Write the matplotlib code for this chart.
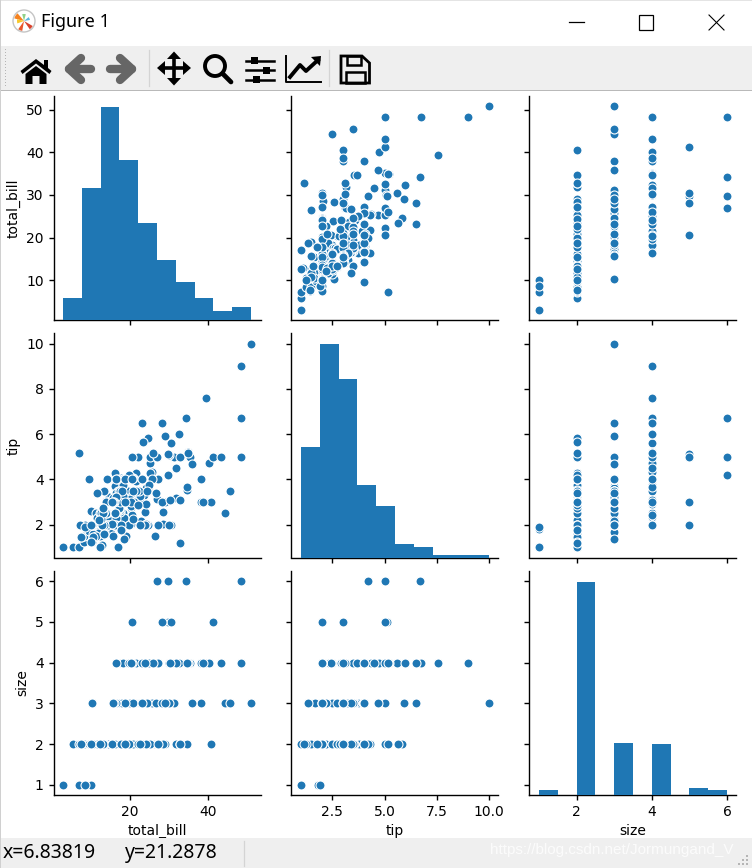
import matplotlib
matplotlib.use('Agg')
import matplotlib.pyplot as plt
from matplotlib.patches import Circle, Polygon, Rectangle, Wedge

# tips values
total_bill = [16.99, 10.34, 21.01, 23.68, 24.59, 25.29, 8.77, 26.88, 15.04, 14.78, 10.27, 35.26, 15.42, 18.43, 14.83, 21.58, 10.33, 16.29, 16.97, 20.65,
              17.92, 20.29, 15.77, 39.42, 19.82, 17.81, 13.37, 12.69, 21.7, 19.65, 9.55, 18.35, 15.06, 20.69, 17.78, 24.06, 16.31, 16.93, 18.69, 31.27,
              16.04, 17.46, 13.94, 9.68, 30.4, 18.29, 22.23, 32.4, 28.55, 18.04, 12.54, 10.29, 34.81, 9.94, 25.56, 19.49, 38.01, 26.41, 11.24, 48.27,
              20.29, 13.81, 11.02, 18.29, 17.59, 20.08, 16.45, 3.07, 20.23, 15.01, 12.02, 17.07, 26.86, 25.28, 14.73, 10.51, 17.92, 27.2, 22.76, 17.29,
              19.44, 16.66, 10.07, 32.68, 15.98, 34.83, 13.03, 18.28, 24.71, 21.16, 28.97, 22.49, 5.75, 16.32, 22.75, 40.17, 27.28, 12.03, 21.01, 12.46,
              11.35, 15.38, 44.3, 22.42, 20.92, 15.36, 20.49, 25.21, 18.24, 14.31, 14.0, 7.25, 38.07, 23.95, 25.71, 17.31, 29.93, 10.65, 12.43, 24.08,
              11.69, 13.42, 14.26, 15.95, 12.48, 29.8, 8.52, 14.52, 11.38, 22.82, 19.08, 20.27, 11.17, 12.26, 18.26, 8.51, 10.33, 14.15, 16.0, 13.16,
              17.47, 34.3, 41.19, 27.05, 16.43, 8.35, 18.64, 11.87, 9.78, 7.51, 14.07, 13.13, 17.26, 24.55, 19.77, 29.85, 48.17, 25.0, 13.39, 16.49,
              21.5, 12.66, 16.21, 13.81, 17.51, 24.52, 20.76, 31.71, 10.59, 10.63, 50.81, 15.81, 7.25, 31.85, 16.82, 32.9, 17.89, 14.48, 9.6, 34.63,
              34.65, 23.33, 45.35, 23.17, 40.55, 20.69, 20.9, 30.46, 18.15, 23.1, 15.69, 19.81, 28.44, 15.48, 16.58, 7.56, 10.34, 43.11, 13.0, 13.51,
              18.71, 12.74, 13.0, 16.4, 20.53, 16.47, 26.59, 38.73, 24.27, 12.76, 30.06, 25.89, 48.33, 13.27, 28.17, 12.9, 28.15, 11.59, 7.74, 30.14,
              12.16, 13.42, 8.58, 15.98, 13.42, 16.27, 10.09, 20.45, 13.28, 22.12, 24.01, 15.69, 11.61, 10.77, 15.53, 10.07, 12.6, 32.83, 35.83, 29.03,
              27.18, 22.67, 17.82, 18.78]
tip = [1.01, 1.66, 3.5, 3.31, 3.61, 4.71, 2.0, 3.12, 1.96, 3.23, 1.71, 5.0, 1.57, 3.0, 3.02, 3.92, 1.67, 3.71, 3.5, 3.35,
       4.08, 2.75, 2.23, 7.58, 3.18, 2.34, 2.0, 2.0, 4.3, 3.0, 1.45, 2.5, 3.0, 2.45, 3.27, 3.6, 2.0, 3.07, 2.31, 5.0,
       2.24, 2.54, 3.06, 1.32, 5.6, 3.0, 5.0, 6.0, 2.05, 3.0, 2.5, 2.6, 5.2, 1.56, 4.34, 3.51, 3.0, 1.5, 1.76, 6.73,
       3.21, 2.0, 1.98, 3.76, 2.64, 3.15, 2.47, 1.0, 2.01, 2.09, 1.97, 3.0, 3.14, 5.0, 2.2, 1.25, 3.08, 4.0, 3.0, 2.71,
       3.0, 3.4, 1.83, 5.0, 2.03, 5.17, 2.0, 4.0, 5.85, 3.0, 3.0, 3.5, 1.0, 4.3, 3.25, 4.73, 4.0, 1.5, 3.0, 1.5,
       2.5, 3.0, 2.5, 3.48, 4.08, 1.64, 4.06, 4.29, 3.76, 4.0, 3.0, 1.0, 4.0, 2.55, 4.0, 3.5, 5.07, 1.5, 1.8, 2.92,
       2.31, 1.68, 2.5, 2.0, 2.52, 4.2, 1.48, 2.0, 2.0, 2.18, 1.5, 2.83, 1.5, 2.0, 3.25, 1.25, 2.0, 2.0, 2.0, 2.75,
       3.5, 6.7, 5.0, 5.0, 2.3, 1.5, 1.36, 1.63, 1.73, 2.0, 2.5, 2.0, 2.74, 2.0, 2.0, 5.14, 5.0, 3.75, 2.61, 2.0,
       3.5, 2.5, 2.0, 2.0, 3.0, 3.48, 2.24, 4.5, 1.61, 2.0, 10.0, 3.16, 5.15, 3.18, 4.0, 3.11, 2.0, 2.0, 4.0, 3.55,
       3.68, 5.65, 3.5, 6.5, 3.0, 5.0, 3.5, 2.0, 3.5, 4.0, 1.5, 4.19, 2.56, 2.02, 4.0, 1.44, 2.0, 5.0, 2.0, 2.0,
       4.0, 2.01, 2.0, 2.5, 4.0, 3.23, 3.41, 3.0, 2.03, 2.23, 2.0, 5.16, 9.0, 2.5, 6.5, 1.1, 3.0, 1.5, 1.44, 3.09,
       2.2, 3.48, 1.92, 3.0, 1.58, 2.5, 2.0, 3.0, 2.72, 2.88, 2.0, 3.0, 3.39, 1.47, 3.0, 1.25, 1.0, 1.17, 4.67, 5.92,
       2.0, 2.0, 1.75, 3.0]
size = [2, 3, 3, 2, 4, 4, 2, 4, 2, 2, 2, 4, 2, 4, 2, 2, 3, 3, 3, 3,
        2, 2, 2, 4, 2, 4, 2, 2, 2, 2, 2, 4, 2, 4, 2, 3, 3, 3, 3, 3,
        3, 2, 2, 2, 4, 2, 2, 4, 3, 2, 2, 2, 4, 2, 4, 2, 4, 2, 2, 4,
        2, 2, 2, 4, 3, 3, 2, 1, 2, 2, 2, 3, 2, 2, 2, 2, 2, 4, 2, 2,
        2, 2, 1, 2, 2, 4, 2, 2, 2, 2, 2, 2, 2, 2, 2, 4, 2, 2, 2, 2,
        2, 2, 3, 2, 2, 2, 2, 2, 2, 2, 2, 1, 3, 2, 3, 2, 4, 2, 2, 4,
        2, 2, 2, 2, 2, 6, 2, 2, 2, 3, 2, 2, 2, 2, 2, 2, 2, 2, 2, 2,
        2, 6, 5, 6, 2, 2, 3, 2, 2, 2, 2, 2, 3, 4, 4, 5, 6, 4, 2, 4,
        4, 2, 3, 2, 2, 3, 2, 4, 2, 2, 3, 2, 2, 2, 2, 2, 2, 2, 2, 2,
        4, 2, 3, 4, 2, 5, 3, 5, 3, 3, 2, 2, 2, 2, 2, 2, 2, 4, 2, 2,
        3, 2, 2, 2, 4, 3, 3, 4, 2, 2, 3, 4, 4, 2, 3, 2, 5, 2, 2, 4,
        2, 2, 1, 3, 2, 2, 2, 4, 2, 2, 4, 3, 2, 2, 2, 2, 2, 2, 3, 3,
        2, 2, 2, 2]

names = ['total_bill', 'tip', 'size']
columns = [total_bill, tip, size]
x_ticks = [[20, 40], [2.5, 5.0, 7.5, 10.0], [2, 4, 6]]
y_ticks = [[10, 20, 30, 40, 50], [2, 4, 6, 8, 10], [1, 2, 3, 4, 5, 6]]

blue = '#1f77b4'
W, H = 752, 868

plt.rcParams['font.size'] = 10
plt.rcParams['axes.labelsize'] = 10
plt.rcParams['axes.linewidth'] = 1.0
plt.rcParams['xtick.major.width'] = 1.0
plt.rcParams['ytick.major.width'] = 1.0

fig, axes = plt.subplots(3, 3, sharex='col', sharey='row', figsize=(W / 100, H / 100), dpi=100)
fig.subplots_adjust(left=53.5 / W, right=736.5 / W, top=1 - 96 / H, bottom=1 - 795 / H,
                    wspace=31 / 207, hspace=13.5 / 224)

for i in range(3):
    for j in range(3):
        ax = axes[i, j]
        ax.spines['top'].set_visible(False)
        ax.spines['right'].set_visible(False)
        if i == j:
            # histogram sits on a hidden twin so the y ticks stay in data units
            twin = ax.twinx()
            twin.hist(columns[i], color=blue)
            twin.axis('off')
        else:
            ax.scatter(columns[j], columns[i], s=42, color=blue, edgecolor='white', linewidth=0.8)

for i in range(3):
    axes[i, 0].set_ylabel(names[i])
    axes[i, 0].set_yticks(y_ticks[i])
    axes[2, i].set_xlabel(names[i])
    axes[2, i].set_xticks(x_ticks[i])
axes[0, 0].set_ylim(min(total_bill) - 0.05 * (max(total_bill) - min(total_bill)),
                    max(total_bill) + 0.05 * (max(total_bill) - min(total_bill)))
axes[2, 2].set_ylim(0.75, 6.25)
axes[2, 1].set_xticklabels(['2.5', '5.0', '7.5', '10.0'])

# window frame drawn in pixel coordinates on top of the figure
ui = fig.add_axes([0, 0, 1, 1], zorder=10)
ui.set_xlim(0, W)
ui.set_ylim(H, 0)
ui.axis('off')
ui.patch.set_alpha(0)

grey_bg = '#efefef'
ui.add_patch(Rectangle((0, 0), W, 46, color='white', lw=0))
ui.add_patch(Rectangle((0, 46), W, 44, color=grey_bg, lw=0))
ui.add_patch(Rectangle((0, 89.5), W, 1.5, color='#b9b9b9', lw=0))
ui.add_patch(Rectangle((0, 0), W, 1, color='#e4e4e4', lw=0))
ui.add_patch(Rectangle((0, 838), W, 30, color=grey_bg, lw=0))
ui.add_patch(Rectangle((0, 0), 1, H, color='#d0d0d0', lw=0))

# logo
ui.add_patch(Circle((24, 21), 11, fc='white', ec='#c4c4c4', lw=1))
ui.add_patch(Wedge((24, 21), 10, 195, 230, color='#f58220', lw=0))
ui.add_patch(Wedge((24, 21), 10, 100, 125, color='#e9562a', lw=0))
ui.add_patch(Wedge((24, 21), 10, 30, 55, color='#d8412b', lw=0))
ui.add_patch(Wedge((24, 21), 7, 160, 195, color='#f7c82d', lw=0))
ui.add_patch(Wedge((24, 21), 7, 255, 285, color='#8fd18a', lw=0))
ui.add_patch(Wedge((24, 21), 6, 320, 350, color='#5bb5e0', lw=0))
ui.text(41, 22, 'Figure 1', fontsize=13, family='Noto Sans', va='center', ha='left', color='black')

# window buttons
ui.plot([569, 584], [22, 22], color='black', lw=0.9)
ui.add_patch(Rectangle((638.5, 15), 14.5, 14.5, fc='none', ec='black', lw=0.9))
ui.plot([709, 724], [15, 30], color='black', lw=0.8)
ui.plot([709, 724], [30, 15], color='black', lw=0.8)

# toolbar
for sx in [148.5, 329]:
    ui.plot([sx, sx], [50, 86], color='#d4d4d4', lw=0.9)
for gy in range(49, 88, 3):
    ui.add_patch(Rectangle((5, gy), 1.3, 1.3, color='#b5b5b5', lw=0))

ui.add_patch(Polygon([(20.5, 71), (36, 59), (44, 65), (44, 60), (48, 60), (48, 68), (51.5, 71), (49.5, 74),
                      (36, 63.5), (22.5, 74)], color='black', lw=0))
ui.add_patch(Polygon([(25.5, 74), (36, 66), (46.5, 74), (46.5, 84), (39.5, 84), (39.5, 76), (32.5, 76), (32.5, 84),
                      (25.5, 84)], color='black', lw=0))

# back / forward arrows, thick round strokes
arrow_grey = '#666666'
for tip_x, head_x, tail_x in [(69, 81, 91), (132, 120, 110)]:
    ui.plot([tail_x, tip_x], [69, 69], color=arrow_grey, lw=6, solid_capstyle='round')
    ui.plot([head_x, tip_x, head_x], [58, 69, 80], color=arrow_grey, lw=6,
            solid_capstyle='round', solid_joinstyle='round')

ui.plot([174, 174], [56, 80], color='black', lw=2.6)
ui.plot([162, 186], [68, 68], color='black', lw=2.6)
ui.add_patch(Polygon([(174, 51.5), (181, 59), (167, 59)], color='black', lw=0))
ui.add_patch(Polygon([(174, 85.5), (181, 78), (167, 78)], color='black', lw=0))
ui.add_patch(Polygon([(157, 68), (165, 61), (165, 75)], color='black', lw=0))
ui.add_patch(Polygon([(191, 68), (183, 61), (183, 75)], color='black', lw=0))

ui.add_patch(Circle((215, 66), 10, fc='none', ec='black', lw=2.8))
ui.plot([222.5, 231], [73.5, 82], color='black', lw=3.4, solid_capstyle='round')

for sy, kx in [(60.5, 254), (70, 266), (79.5, 256)]:
    ui.plot([246, 274], [sy, sy], color='black', lw=1.8)
    ui.add_patch(Rectangle((kx - 3.5, sy - 3.5), 7, 7, color='black', lw=0))

ui.plot([285.5, 285.5, 321], [56, 82, 82], color='black', lw=1.4)
ui.plot([290, 300, 306, 318], [77, 65, 71, 60], color='black', lw=2.8)
ui.add_patch(Polygon([(311, 57), (321, 56), (320, 66)], color='black', lw=0))

ui.add_patch(Polygon([(341, 56), (362, 56), (369.5, 63), (369.5, 83), (341, 83)], fc='none', ec='black', lw=2))
ui.add_patch(Rectangle((347, 56), 14, 9, fc='none', ec='black', lw=1.8))
ui.add_patch(Rectangle((346, 72), 19, 11, fc='none', ec='black', lw=1.8))

# status bar
ui.text(3, 853, 'x=6.83819', fontsize=14, family='Noto Sans', va='center', color='black')
ui.text(125, 853, 'y=21.2878', fontsize=14, family='Noto Sans', va='center', color='black')
ui.plot([244, 244], [841, 866], color='#d4d4d4', lw=0.9)
ui.text(490, 850, 'https://blog.csdn.net/Jormungand_V', fontsize=11, family='Liberation Sans', va='center',
        color='white', alpha=0.8)
for gx, gy in [(746, 855), (742, 859), (746, 859), (738, 863), (742, 863), (746, 863)]:
    ui.add_patch(Rectangle((gx, gy), 2, 2, color='#b5b5b5', lw=0))

fig.savefig('out.png', dpi=100)
